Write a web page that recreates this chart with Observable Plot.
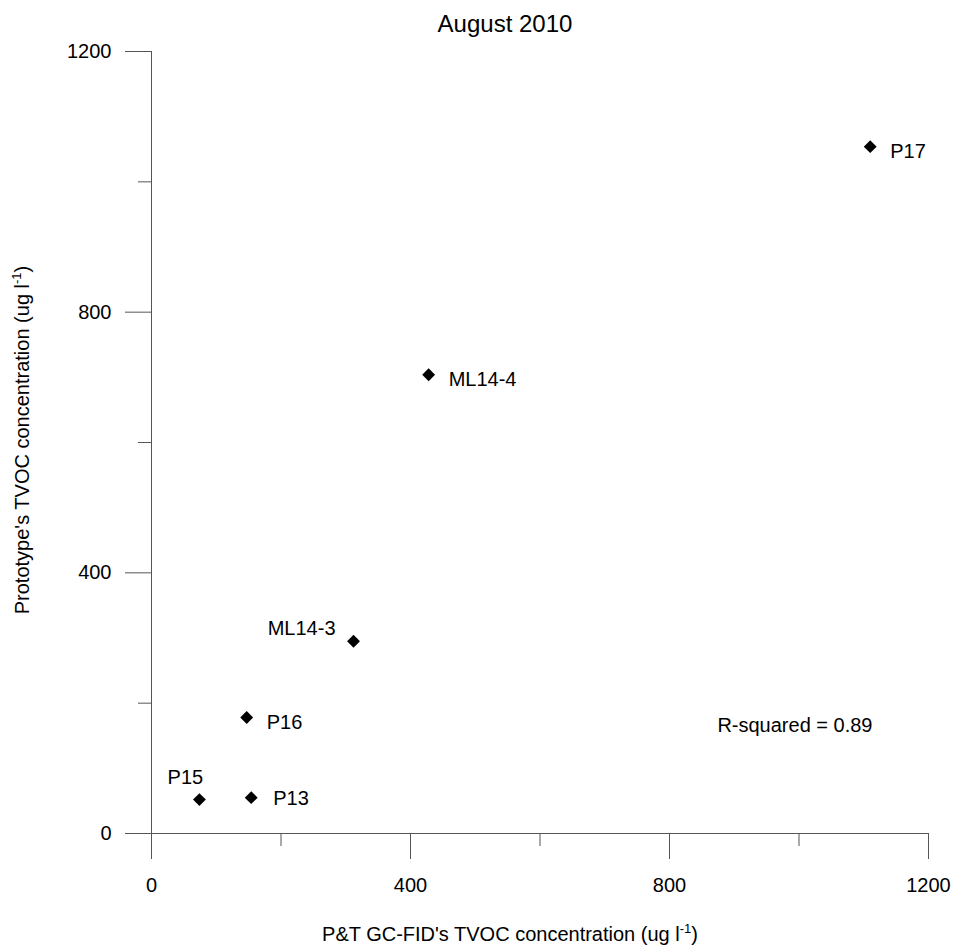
<!DOCTYPE html>
<html>
<head>
<meta charset="utf-8">
<script src="https://cdn.jsdelivr.net/npm/d3@7"></script>
<script src="https://cdn.jsdelivr.net/npm/@observablehq/plot@0.6"></script>
<style>
  html, body { margin: 0; padding: 0; background: #fff; }
  #chart { width: 954px; font-family: "Liberation Sans", Arial, sans-serif; }
  #title {
    height: 40px; box-sizing: border-box;
    padding-top: 12px; padding-left: 56px;
    font-size: 24px; line-height: 24px; text-align: center; color: #000;
  }
</style>
</head>
<body>
<div id="chart">
  <div id="title">August 2010</div>
</div>
<script>
// Sampling sites and TVOC concentrations (ug l-1)
const sites = ["P13", "P15", "P16", "ML14-3", "ML14-4", "P17"];
const gcFid = [154, 74, 147, 312, 428, 1110];      // P&T GC-FID
const prototype = [55, 52, 178, 295, 704, 1054];   // prototype sensor
const rSquared = 0.89;

const majorTicks = [0, 400, 800, 1200];
const minorTicks = [200, 600, 1000];

const data = sites.map((site, i) => ({site, x: gcFid[i], y: prototype[i]}));
const pick = (...names) => data.filter(d => names.includes(d.site));

const font = {fontFamily: "Liberation Sans, Arial, sans-serif", fontSize: 20};
const axisStroke = "#555";
const plain = d3.format("d");

const chart = Plot.plot({
  width: 954,
  height: 908,
  marginTop: 11,
  marginBottom: 115,
  marginLeft: 151,
  marginRight: 26,
  style: {fontFamily: font.fontFamily, fontSize: "20px", color: "#000", background: "#fff"},
  x: {domain: [0, 1200], label: null},
  y: {domain: [0, 1200], label: null},
  marks: [
    Plot.axisX({ticks: majorTicks, tickFormat: plain, tickSize: 26, tickPadding: 18, stroke: axisStroke, fill: "#000", fontSize: 20, label: null}),
    Plot.axisX({ticks: minorTicks, tickSize: 13, stroke: axisStroke, tickFormat: () => "", label: null}),
    Plot.axisY({ticks: majorTicks, tickFormat: plain, tickSize: 26, tickPadding: 14, stroke: axisStroke, fill: "#000", fontSize: 20, label: null}),
    Plot.axisY({ticks: minorTicks, tickSize: 13, stroke: axisStroke, tickFormat: () => "", label: null}),
    Plot.ruleY([0], {stroke: axisStroke}),
    Plot.ruleX([0], {stroke: axisStroke}),
    Plot.dot(data, {x: "x", y: "y", symbol: "diamond2", r: 5.8, fill: "#000", stroke: null}),
    Plot.text(pick("P16", "ML14-4", "P17"), {x: "x", y: "y", text: "site", textAnchor: "start", dx: 20, dy: 5, fill: "#000", ...font}),
    Plot.text(pick("P13"), {x: "x", y: "y", text: "site", textAnchor: "start", dx: 22, dy: 1, fill: "#000", ...font}),
    Plot.text(pick("P15"), {x: "x", y: "y", text: "site", textAnchor: "middle", dx: -14, dy: -22, fill: "#000", ...font}),
    Plot.text(pick("ML14-3"), {x: "x", y: "y", text: "site", textAnchor: "end", dx: -18, dy: -13, fill: "#000", ...font}),
    Plot.text([`R-squared = ${rSquared.toFixed(2)}`], {frameAnchor: "bottom-right", textAnchor: "end", lineAnchor: "middle", dx: -56, dy: -108, fill: "#000", ...font})
  ]
});

document.getElementById("chart").appendChild(chart);

// Axis titles with superscript units
const svg = d3.select(chart);
const xTitle = svg.append("text")
  .attr("x", 510).attr("y", 901)
  .attr("text-anchor", "middle")
  .attr("font-size", 20).attr("fill", "#000");
xTitle.append("tspan").text("P&T GC-FID's TVOC concentration (ug l");
xTitle.append("tspan").attr("font-size", 13).attr("dy", "-0.6em").text("-1");
xTitle.append("tspan").attr("dy", "0.4em").text(")");

const yTitle = svg.append("text")
  .attr("transform", "translate(29,400) rotate(-90)")
  .attr("text-anchor", "middle")
  .attr("font-size", 20).attr("fill", "#000");
yTitle.append("tspan").text("Prototype's TVOC concentration (ug l");
yTitle.append("tspan").attr("font-size", 13).attr("dy", "-0.6em").text("-1");
yTitle.append("tspan").attr("dy", "0.4em").text(")");
</script>
</body>
</html>
